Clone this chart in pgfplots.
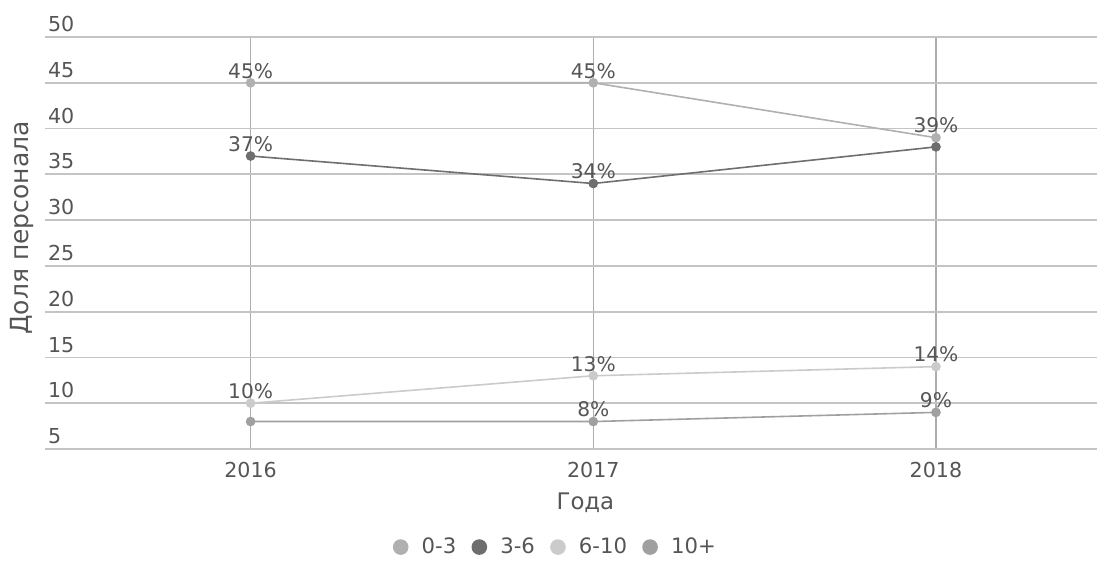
\documentclass[border=0pt]{standalone}
\usepackage{fontspec}
\setmainfont{DejaVu Sans}
\usepackage{pgfplots}
\pgfplotsset{compat=1.18}
\definecolor{cA}{HTML}{B0B0B0}
\definecolor{cB}{HTML}{6E6E6E}
\definecolor{cC}{HTML}{CBCBCB}
\definecolor{cD}{HTML}{A0A0A0}
\definecolor{gridh}{HTML}{C4C4C4}
\definecolor{gridv}{HTML}{ADADAD}
\definecolor{txt}{HTML}{555555}
\begin{document}
\begin{tikzpicture}
\useasboundingbox (0pt,0pt) rectangle (548.5pt,284.5pt);
\begin{axis}[
  at={(22.5pt,60pt)}, anchor=south west,
  scale only axis, width=526pt, height=206pt,
  xmin=2015.4, xmax=2018.47, ymin=5, ymax=50,
  axis line style={draw=none},
  xtick={2016,2017,2018},
  xticklabels={2016,2017,2018},
  ytick={5,10,...,50},
  major tick length=0pt,
  xmajorgrids, ymajorgrids,
  y grid style={gridh, line width=0.85pt},
  x grid style={gridv, line width=0.6pt},
  /pgf/number format/assume math mode=true,
  ticklabel style={font=\fontsize{10.3}{12}\selectfont, text=txt},
  yticklabel style={anchor=south west, xshift=-2pt, yshift=-1pt},
  xticklabel style={yshift=-3pt},
  clip=false,
  nodes near coords,
  point meta=explicit symbolic,
  every node near coord/.append style={font=\fontsize{10.1}{12}\selectfont, text=txt, anchor=south, yshift=-1.5pt},
  legend columns=4,
  legend style={draw=none, fill=none, at={(0.486,-0.238)}, anchor=center,
    font=\fontsize{10.6}{12}\selectfont, text=txt,
    /tikz/every even column/.append style={column sep=5.5pt}},
  legend image code/.code={\fill[#1] (0pt,0pt) circle (3.5pt); \path[draw=none,fill=none] (-4pt,0pt) -- (8.5pt,0pt);},
]
\addplot[cA, line width=0.8pt, mark=*, mark size=2pt] coordinates {(2016,45)[45\%] (2017,45)[45\%] (2018,39)[39\%]};
\addlegendentry{0-3}
\addplot[cB, line width=0.8pt, mark=*, mark size=2pt] coordinates {(2016,37)[37\%] (2017,34)[34\%] (2018,38)[]};
\addlegendentry{3-6}
\addplot[cC, line width=0.8pt, mark=*, mark size=2pt] coordinates {(2016,10)[10\%] (2017,13)[13\%] (2018,14)[14\%]};
\addlegendentry{6-10}
\addplot[cD, line width=0.8pt, mark=*, mark size=2pt] coordinates {(2016,8)[] (2017,8)[8\%] (2018,9)[9\%]};
\addlegendentry{10+}
\end{axis}
\node[rotate=90, font=\fontsize{12.5}{14}\selectfont, text=txt] at (11pt,170.5pt) {Доля персонала};
\node[font=\fontsize{11.4}{13}\selectfont, text=txt] at (292.7pt,33pt) {Года};
\end{tikzpicture}
\end{document}
